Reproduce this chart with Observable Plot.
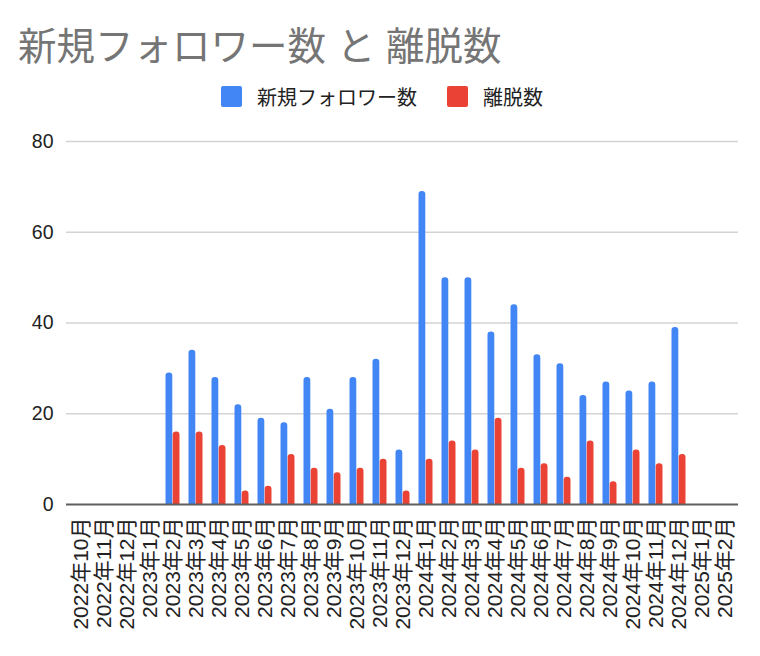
<!DOCTYPE html>
<html>
<head>
<meta charset="utf-8">
<script src="https://cdn.jsdelivr.net/npm/d3@7"></script>
<script src="https://cdn.jsdelivr.net/npm/@observablehq/plot@0.6"></script>
<style>
  html, body { margin: 0; padding: 0; background: #fff; }
  body { width: 760px; height: 656px; position: relative; overflow: hidden;
         font-family: "Liberation Sans", "Noto Sans CJK JP", sans-serif; }
  #title { position: absolute; left: 18px; top: 24px; font-size: 38.5px; line-height: 46px;
           color: #757575; white-space: nowrap; }
  #legend { position: absolute; left: 221px; top: 86px; height: 21px; display: flex; align-items: center;
            font-size: 20px; color: #222; white-space: nowrap; }
  .sw { width: 21px; height: 21px; border-radius: 2px; display: inline-block; margin-right: 15px; }
  .item { display: flex; align-items: center; margin-right: 30px; }
  #chart { position: absolute; left: 0; top: 120px; }
</style>
</head>
<body>
<div id="title">新規フォロワー数 と 離脱数</div>
<div id="legend"></div>
<div id="chart"></div>
<script>
const months = ["2022年10月","2022年11月","2022年12月","2023年1月","2023年2月","2023年3月","2023年4月","2023年5月","2023年6月","2023年7月","2023年8月","2023年9月","2023年10月","2023年11月","2023年12月","2024年1月","2024年2月","2024年3月","2024年4月","2024年5月","2024年6月","2024年7月","2024年8月","2024年9月","2024年10月","2024年11月","2024年12月","2025年1月","2025年2月"];
const followers = [null,null,null,null,29,34,28,22,19,18,28,21,28,32,12,69,50,50,38,44,33,31,24,27,25,27,39,null,null];
const churn = [null,null,null,null,16,16,13,3,4,11,8,7,8,10,3,10,14,12,19,8,9,6,14,5,12,9,11,null,null];
const seriesNames = ["新規フォロワー数","離脱数"];
const seriesColors = ["#4285F4","#EA4335"];
const yTicks = [0,20,40,60,80];

const legend = document.getElementById("legend");
seriesNames.forEach((n,i)=>{
  const it = document.createElement("div"); it.className = "item";
  const sw = document.createElement("span"); sw.className = "sw"; sw.style.background = seriesColors[i];
  const tx = document.createElement("span"); tx.textContent = n;
  it.appendChild(sw); it.appendChild(tx); legend.appendChild(it);
});

const data = months.map((m,i)=>({month:m, follow:followers[i], churn:churn[i]}));

const W = 760, ML = 66, MR = 22, PO = 0.1;
const step = (W - ML - MR) / (months.length + 2*PO);
const barW = 6.8, gap = 0.4;
const inA = step/2 - barW - gap/2, inB = step/2 + gap/2;

const chart = Plot.plot({
  width: W, height: 530,
  marginTop: 21, marginBottom: 146, marginLeft: ML, marginRight: MR,
  style: {fontFamily: '"Liberation Sans", "Noto Sans CJK JP", sans-serif', fontSize: "19px", color: "#222", background: "#fff"},
  x: {domain: months, paddingInner: 0, paddingOuter: PO, label: null},
  y: {domain: [0,80], label: null},
  marks: [
    Plot.ruleY(yTicks.filter(t=>t>0), {stroke: "#d3d3d3", strokeWidth: 1.6}),
    Plot.barY(data.filter(d=>d.follow!=null), {x:"month", y:"follow", fill: seriesColors[0], insetLeft: inA, insetRight: inB, ry1: 3.2}),
    Plot.barY(data.filter(d=>d.churn!=null), {x:"month", y:"churn", fill: seriesColors[1], insetLeft: inB, insetRight: inA, ry1: 3.2}),
    Plot.ruleY([0], {stroke: "#5f5f5f", strokeWidth: 2}),
    Plot.axisY({ticks: yTicks, tickSize: 0, tickPadding: 13, fontSize: 19.5, label: null}),
    Plot.axisX({tickRotate: -90, tickSize: 0, tickPadding: 13, fontSize: 21, label: null})
  ]
});
document.getElementById("chart").appendChild(chart);
</script>
</body>
</html>
